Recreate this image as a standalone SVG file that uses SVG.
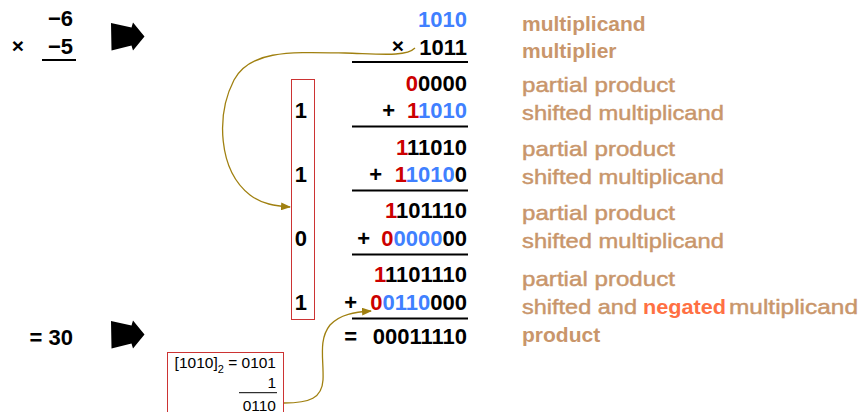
<svg xmlns="http://www.w3.org/2000/svg" width="863" height="412" viewBox="0 0 863 412">
<style>
.d{font-family:"Liberation Sans",Arial,sans-serif;font-size:22px;font-weight:bold;fill:#000;text-anchor:end}
.x{font-family:"Liberation Sans",Arial,sans-serif;font-size:21px;font-weight:bold;fill:#000;text-anchor:end}
.r{fill:#cc0000}
.b{fill:#4080ff}
.lb{font-family:"Liberation Sans",Arial,sans-serif;font-size:21px;fill:#c9966b;stroke:#c9966b;stroke-width:0.45}
.bold{font-weight:bold;stroke:none}
.neg{fill:#ff7043;stroke:none;font-weight:bold}
.sm{font-family:"Liberation Sans",Arial,sans-serif;font-size:15.5px;fill:#000;text-anchor:end}
.rule{stroke:#000;stroke-width:2}
.curve{fill:none;stroke:#a08010;stroke-width:1.3}
</style>
<defs>
<marker id="ah" markerWidth="10" markerHeight="8" refX="9" refY="4" orient="auto" markerUnits="userSpaceOnUse">
<path d="M0,0 L10,4 L0,8 Z" fill="#a08010"/>
</marker>
<polygon id="bigarrow" points="111,23 131.5,27.5 133,22.5 144.5,36.5 133,50.5 131.5,45.5 111.5,50.5" fill="#000"/>
</defs>

<g id="left-problem">
<text class="d" x="73" y="26">−6</text>
<text class="x" x="24" y="53">×</text>
<text class="d" x="73" y="54">−5</text>
<line class="rule" x1="42" y1="60" x2="76" y2="60"/>
<text class="d" x="73" y="345">= 30</text>
</g>
<g id="arrow-top"><use href="#bigarrow"/></g>
<g id="arrow-bottom"><use href="#bigarrow" transform="translate(0,298)"/></g>

<g id="work">
<text class="d b" x="467" y="26.5">1010</text>
<text class="x" x="404" y="53">×</text>
<text class="d" x="467" y="54.5">1011</text>
<line class="rule" x1="352" y1="62" x2="468" y2="62"/>
<text class="d" x="467" y="90.5"><tspan class="r">0</tspan>0000</text>
<text class="d" x="395" y="118">+</text>
<text class="d" x="467" y="118"><tspan class="r">1</tspan><tspan class="b">1010</tspan></text>
<line class="rule" x1="352" y1="126.5" x2="468" y2="126.5"/>
<text class="d" x="467" y="154.5"><tspan class="r">1</tspan>11010</text>
<text class="d" x="382" y="182">+</text>
<text class="d" x="467" y="182"><tspan class="r">1</tspan><tspan class="b">1010</tspan>0</text>
<line class="rule" x1="352" y1="190.5" x2="468" y2="190.5"/>
<text class="d" x="467" y="218"><tspan class="r">1</tspan>101110</text>
<text class="d" x="370" y="245.5">+</text>
<text class="d" x="467" y="245.5"><tspan class="r">0</tspan><tspan class="b">0000</tspan>00</text>
<line class="rule" x1="352" y1="254.5" x2="468" y2="254.5"/>
<text class="d" x="467" y="282"><tspan class="r">1</tspan>1101110</text>
<text class="d" x="357" y="309.5">+</text>
<text class="d" x="467" y="309.5"><tspan class="r">0</tspan><tspan class="b">0110</tspan>000</text>
<line class="rule" x1="352" y1="318.5" x2="468" y2="318.5"/>
<text class="d" x="357" y="344">=</text>
<text class="d" x="467" y="344">00011110</text>
</g>

<g id="bit-box">
<rect x="291.5" y="79.5" width="23" height="240" fill="none" stroke="#cc3333" stroke-width="1"/>
<text class="d" x="307" y="118">1</text>
<text class="d" x="307" y="182">1</text>
<text class="d" x="307" y="245.5">0</text>
<text class="d" x="307" y="309.5">1</text>
</g>

<g id="negation-box">
<rect x="167.5" y="352.5" width="116" height="70" fill="none" stroke="#cc3333" stroke-width="1"/>
<text class="sm" x="276" y="368">[1010]<tspan font-size="11" dy="5">2</tspan><tspan dy="-5"> = 0101</tspan></text>
<text class="sm" x="276" y="388">1</text>
<line x1="239" y1="392.7" x2="277" y2="392.7" stroke="#000" stroke-width="1"/>
<text class="sm" x="276" y="410.5">0110</text>
</g>

<g id="labels">
<text class="lb bold" x="522" y="30.5">multiplicand</text>
<text class="lb bold" x="522" y="58">multiplier</text>
<text class="lb" x="522" y="92" textLength="153" lengthAdjust="spacingAndGlyphs">partial product</text>
<text class="lb" x="522" y="120" textLength="202" lengthAdjust="spacingAndGlyphs">shifted multiplicand</text>
<text class="lb" x="522" y="156" textLength="153" lengthAdjust="spacingAndGlyphs">partial product</text>
<text class="lb" x="522" y="184" textLength="202" lengthAdjust="spacingAndGlyphs">shifted multiplicand</text>
<text class="lb" x="522" y="220" textLength="153" lengthAdjust="spacingAndGlyphs">partial product</text>
<text class="lb" x="522" y="248" textLength="202" lengthAdjust="spacingAndGlyphs">shifted multiplicand</text>
<text class="lb" x="522" y="286" textLength="153" lengthAdjust="spacingAndGlyphs">partial product</text>
<text class="lb" x="522" y="314" textLength="115" lengthAdjust="spacingAndGlyphs">shifted and</text>
<text class="lb neg" x="643" y="314" textLength="83" lengthAdjust="spacingAndGlyphs">negated</text>
<text class="lb" x="729" y="314" textLength="129" lengthAdjust="spacingAndGlyphs">multiplicand</text>
<text class="lb bold" x="522" y="342">product</text>
</g>

<g id="connectors">
<path class="curve" marker-end="url(#ah)" d="M415,48 C406,57 380,54 345,53 C290,52 250,50 234,80 C216,115 218,170 250,195 C262,204 275,206 290,207"/>
<path class="curve" marker-end="url(#ah)" d="M284,403 C310,403 322,398 323,380 C324,360 318,340 330,325 C340,314 355,312 371,311"/>
</g>
</svg>
